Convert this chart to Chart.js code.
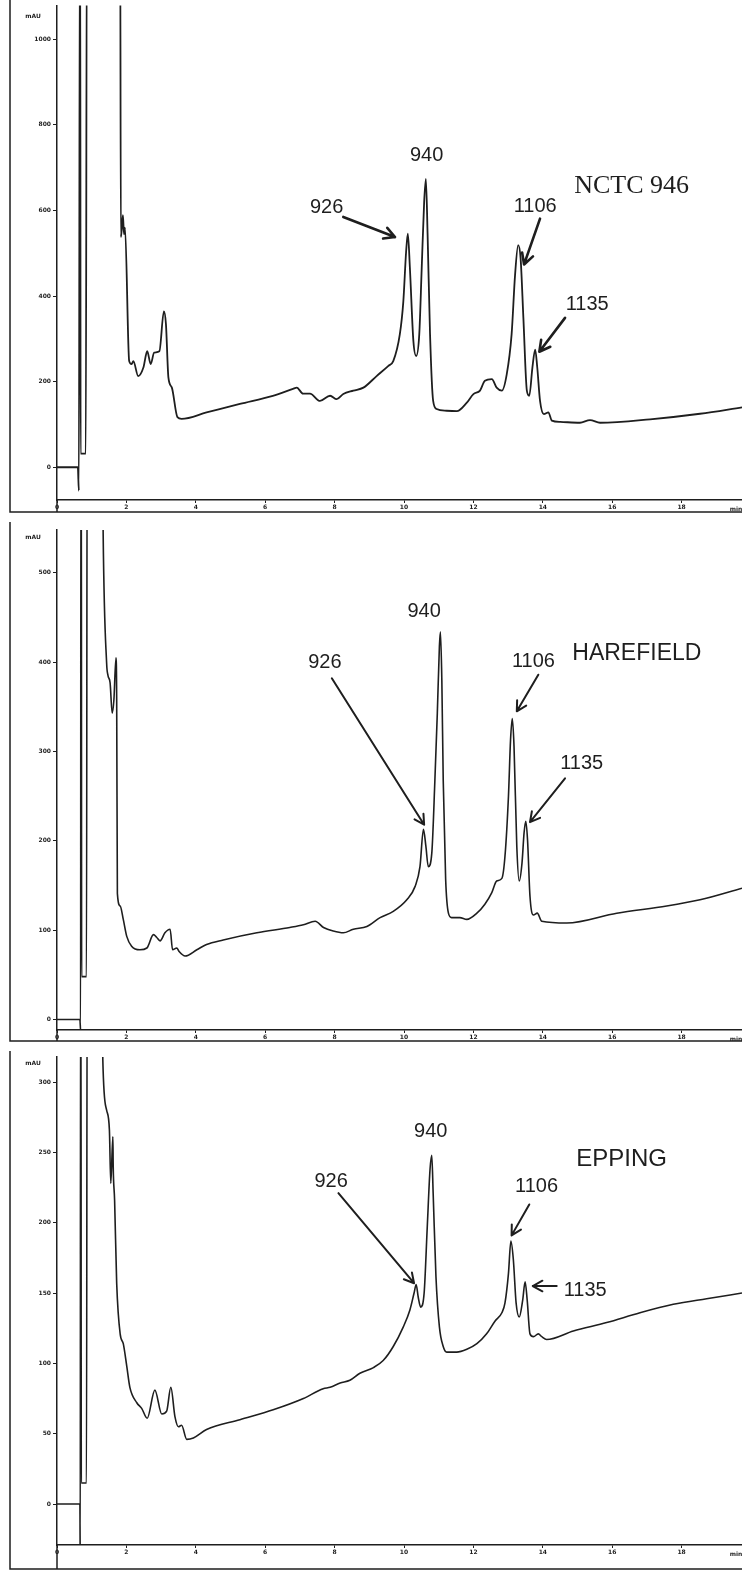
<!DOCTYPE html>
<html>
<head>
<meta charset="utf-8">
<script src="https://cdn.jsdelivr.net/npm/chart.js@4.4.1/dist/chart.umd.min.js"></script>
<style>
  body { margin: 0; background: #fff; }
  canvas { position: absolute; left: 0; }
</style>
</head>
<body>
<canvas id="c1" width="742" height="518" style="top:0px"></canvas>
<canvas id="c2" width="742" height="527" style="top:518px"></canvas>
<canvas id="c3" width="742" height="529" style="top:1045px"></canvas>
<script>
// retention time in minutes, absorbance in mAU
const timeTicks = [0, 2, 4, 6, 8, 10, 12, 14, 16, 18];
const yTicks1 = [0, 200, 400, 600, 800, 1000];
const yTicks2 = [0, 100, 200, 300, 400, 500];
const yTicks3 = [0, 50, 100, 150, 200, 250, 300];

// NCTC 946
const time1 = [0, 0.60, 0.63, 0.66, 0.67, 0.68, 0.83, 0.86, 1.82, 1.84, 1.87, 1.90, 1.93, 1.96, 2.08, 2.15, 2.20, 2.34, 2.49, 2.60, 2.70, 2.80, 2.95, 3.08, 3.14, 3.21, 3.31, 3.47, 3.59, 4.31, 5.27, 6.22, 6.80, 6.91, 7.09, 7.29, 7.58, 7.87, 8.06, 8.25, 8.54, 8.83, 9.21, 9.55, 9.69, 9.88, 9.98, 10.06, 10.11, 10.17, 10.27, 10.35, 10.44, 10.51, 10.58, 10.63, 10.68, 10.75, 10.84, 10.94, 11.23, 11.52, 11.81, 12.00, 12.19, 12.33, 12.53, 12.67, 12.82, 12.96, 13.10, 13.20, 13.29, 13.36, 13.44, 13.54, 13.61, 13.70, 13.78, 13.84, 13.92, 14.03, 14.16, 14.26, 14.50, 15.07, 15.36, 15.65, 17.09, 18.53, 19.74];
const signal1 = [0, 0, -55, 1300, 1300, 32, 32, 1300, 1300, 538, 560, 589, 545, 560, 248, 241, 248, 213, 233, 271, 241, 268, 271, 364, 334, 210, 186, 117, 113, 128, 148, 167, 183, 186, 172, 172, 155, 167, 159, 171, 179, 186, 213, 237, 248, 311, 387, 503, 546, 465, 295, 260, 311, 465, 619, 674, 543, 311, 155, 136, 132, 131, 151, 171, 179, 202, 206, 186, 179, 217, 310, 449, 519, 488, 349, 179, 167, 233, 275, 233, 155, 124, 128, 109, 106, 104, 110, 104, 112, 125, 140];

// HAREFIELD
const time2 = [0, 0.66, 0.68, 0.69, 0.70, 0.71, 0.85, 0.87, 1.30, 1.33, 1.43, 1.47, 1.53, 1.59, 1.64, 1.70, 1.72, 1.74, 1.82, 1.91, 2.01, 2.15, 2.39, 2.59, 2.78, 2.87, 2.97, 3.11, 3.26, 3.33, 3.45, 3.52, 3.69, 4.03, 4.31, 4.79, 5.76, 6.71, 7.10, 7.44, 7.68, 7.96, 8.25, 8.54, 8.93, 9.31, 9.69, 10.08, 10.32, 10.46, 10.56, 10.63, 10.70, 10.80, 10.89, 10.96, 11.02, 11.05, 11.09, 11.13, 11.20, 11.28, 11.37, 11.61, 11.81, 12.10, 12.33, 12.53, 12.67, 12.82, 12.91, 13.01, 13.07, 13.12, 13.17, 13.25, 13.32, 13.40, 13.46, 13.51, 13.56, 13.63, 13.73, 13.84, 13.97, 14.69, 16.13, 17.57, 18.53, 19.74];
const signal2 = [0, 0, -12, 700, 700, 48, 48, 700, 700, 545, 399, 385, 377, 343, 358, 405, 358, 141, 127, 112, 93, 82, 78, 80, 95, 92, 88, 97, 101, 78, 80, 76, 71, 78, 84, 89, 97, 103, 106, 110, 103, 99, 97, 101, 104, 114, 121, 134, 149, 171, 213, 194, 171, 186, 268, 343, 418, 434, 380, 268, 157, 119, 114, 114, 112, 119, 129, 142, 155, 158, 183, 250, 313, 337, 306, 194, 155, 175, 209, 222, 201, 138, 117, 119, 110, 108, 119, 127, 134, 147];

// EPPING
const time3 = [0, 0.66, 0.67, 0.68, 0.69, 0.70, 0.85, 0.87, 1.29, 1.32, 1.43, 1.51, 1.55, 1.61, 1.62, 1.66, 1.72, 1.82, 1.91, 2.01, 2.10, 2.30, 2.44, 2.60, 2.82, 3.02, 3.16, 3.28, 3.40, 3.50, 3.59, 3.74, 3.93, 4.31, 5.27, 6.23, 7.10, 7.67, 7.87, 8.16, 8.44, 8.73, 9.12, 9.40, 9.69, 9.98, 10.17, 10.29, 10.35, 10.41, 10.48, 10.58, 10.67, 10.75, 10.80, 10.84, 10.92, 11.02, 11.13, 11.23, 11.52, 11.81, 12.10, 12.38, 12.62, 12.82, 12.91, 13.01, 13.08, 13.15, 13.23, 13.32, 13.42, 13.49, 13.55, 13.63, 13.73, 13.87, 13.97, 14.11, 14.88, 15.84, 16.80, 17.76, 18.72, 19.74];
const signal3 = [0, 0, -45, 400, 400, 15, 15, 400, 400, 316, 280, 266, 228, 261, 240, 216, 157, 121, 114, 98, 83, 72, 68, 61, 81, 64, 66, 83, 62, 55, 56, 46, 47, 53, 60, 67, 75, 82, 83, 86, 88, 93, 97, 102, 112, 126, 138, 150, 156, 147, 140, 150, 197, 238, 248, 221, 162, 126, 112, 108, 108, 110, 114, 121, 130, 136, 143, 164, 187, 174, 143, 133, 145, 158, 145, 121, 119, 121, 119, 117, 123, 129, 136, 142, 146, 150];

// peak labels and arrows, anchored in (min, mAU)
const labels1 = [['926', 7.77, 606], ['940', 10.65, 728], ['1106', 13.78, 610], ['1135', 15.28, 380]];
const arrows1 = [[8.25, 585, 9.74, 538], [13.92, 581, 13.46, 474], [14.64, 349, 13.90, 270]];
const title1 = ['NCTC 946', 16.56, 658];

const labels2 = [['926', 7.72, 400], ['940', 10.58, 457], ['1106', 13.73, 401], ['1135', 15.12, 287]];
const arrows2 = [[7.92, 382, 10.58, 218], [13.87, 386, 13.25, 345], [14.64, 270, 13.63, 221]];
const title2 = ['HAREFIELD', 16.71, 410];

const labels3 = [['926', 7.90, 229], ['940', 10.77, 265], ['1106', 13.82, 226], ['1135', 15.22, 152]];
const arrows3 = [[8.11, 221, 10.29, 157], [13.61, 213, 13.10, 191], [14.40, 155, 13.71, 155]];
const title3 = ['EPPING', 16.27, 245];

const ink = '#1e1e1e';

const peakNotes = {
    id: 'peakNotes',
    afterDatasetsDraw(chart, args, opts) {
        const { ctx, scales: { x, y } } = chart;
        ctx.save();
        ctx.strokeStyle = ink;
        ctx.fillStyle = ink;
        ctx.lineCap = 'round';
        ctx.lineWidth = opts.arrowWidth;
        opts.arrows.forEach(a => {
            const x1 = x.getPixelForValue(a[0]), y1 = y.getPixelForValue(a[1]);
            const x2 = x.getPixelForValue(a[2]), y2 = y.getPixelForValue(a[3]);
            const ang = Math.atan2(y2 - y1, x2 - x1);
            ctx.beginPath();
            ctx.moveTo(x1, y1);
            ctx.lineTo(x2, y2);
            [0.5, -0.5].forEach(d => {
                ctx.moveTo(x2, y2);
                ctx.lineTo(x2 - opts.head * Math.cos(ang + d), y2 - opts.head * Math.sin(ang + d));
            });
            ctx.stroke();
        });
        ctx.textAlign = 'center';
        ctx.textBaseline = 'middle';
        ctx.font = opts.labelFont;
        opts.labels.forEach(l => ctx.fillText(l[0], x.getPixelForValue(l[1]), y.getPixelForValue(l[2])));
        ctx.font = opts.titleFont;
        ctx.fillText(opts.title[0], x.getPixelForValue(opts.title[1]), y.getPixelForValue(opts.title[2]));
        ctx.restore();
    }
};

// the printout's outer frame, unit label and time unit
const frame = {
    id: 'frame',
    afterDraw(chart, args, opts) {
        const { ctx, chartArea: a } = chart;
        ctx.save();
        ctx.strokeStyle = ink;
        ctx.lineWidth = 1.5;
        ctx.beginPath();
        ctx.moveTo(10, opts.frameTop);
        ctx.lineTo(10, opts.frameBottom);
        ctx.lineTo(chart.width, opts.frameBottom);
        ctx.moveTo(a.left, a.bottom);
        ctx.lineTo(a.left, opts.frameBottom);
        ctx.stroke();
        ctx.fillStyle = ink;
        ctx.font = 'bold 6px "DejaVu Sans"';
        ctx.textAlign = 'center';
        ctx.textBaseline = 'middle';
        ctx.fillText('mAU', 33, a.top + opts.unitOffset);
        ctx.fillText('min', chart.width - 6, a.bottom + 9);
        ctx.restore();
    }
};

function makePanel(id, time, signal, yTicks, o) {
    const canvas = document.getElementById(id);
    new Chart(canvas, {
        type: 'line',
        data: {
            datasets: [{
                data: time.map((t, i) => ({ x: t, y: signal[i] })),
                borderColor: ink,
                borderWidth: o.lineWidth,
                pointRadius: 0,
                cubicInterpolationMode: 'monotone',
                fill: false
            }]
        },
        options: {
            responsive: false,
            animation: false,
            layout: { padding: { top: o.top, left: 0, right: 0, bottom: 0 } },
            plugins: {
                legend: { display: false },
                tooltip: { enabled: false },
                peakNotes: o.notes,
                frame: { frameTop: o.frameTop, frameBottom: o.frameBottom, unitOffset: o.unitOffset }
            },
            scales: {
                x: {
                    type: 'linear',
                    min: 0,
                    max: 19.74,
                    afterBuildTicks: s => { s.ticks = timeTicks.map(v => ({ value: v })); },
                    afterFit: s => { s.height = canvas.height - o.bottom; },
                    grid: { display: true, drawOnChartArea: false, drawTicks: true, tickLength: 3, color: ink },
                    border: { display: true, color: ink, width: 1.5 },
                    ticks: { font: { size: 6, weight: 'bold', family: 'DejaVu Sans' }, color: ink, padding: 1,
                             maxRotation: 0, autoSkip: false, callback: v => String(v) }
                },
                y: {
                    min: o.min,
                    max: o.max,
                    afterBuildTicks: s => { s.ticks = yTicks.map(v => ({ value: v })); },
                    afterFit: s => { s.width = 57; },
                    grid: { display: true, drawOnChartArea: false, drawTicks: true, tickLength: 4, color: ink },
                    border: { display: true, color: ink, width: 1.5 },
                    ticks: { font: { size: 6, weight: 'bold', family: 'DejaVu Sans' }, color: ink, padding: 2,
                             callback: v => String(v) }
                }
            }
        },
        plugins: [peakNotes, frame]
    });
}

makePanel('c1', time1, signal1, yTicks1, {
    top: 2, bottom: 500, min: -76.6, max: 1078.9, lineWidth: 1.8,
    frameTop: 0, frameBottom: 512, unitOffset: 11,
    notes: { labels: labels1, arrows: arrows1, title: title1, arrowWidth: 2.6, head: 12,
             labelFont: '20px "Liberation Sans"', titleFont: '26px "Liberation Serif"' }
});
makePanel('c2', time2, signal2, yTicks2, {
    top: 12, bottom: 512, min: -11.8, max: 548, lineWidth: 1.6,
    frameTop: 4, frameBottom: 523, unitOffset: 7,
    notes: { labels: labels2, arrows: arrows2, title: title2, arrowWidth: 2, head: 11,
             labelFont: '20px "Liberation Sans"', titleFont: '23px "Liberation Sans"' }
});
makePanel('c3', time3, signal3, yTicks3, {
    top: 12, bottom: 500, min: -29.1, max: 317.8, lineWidth: 1.6,
    frameTop: 6, frameBottom: 524, unitOffset: 6,
    notes: { labels: labels3, arrows: arrows3, title: title3, arrowWidth: 2, head: 11,
             labelFont: '20px "Liberation Sans"', titleFont: '24px "Liberation Sans"' }
});
</script>
</body>
</html>
